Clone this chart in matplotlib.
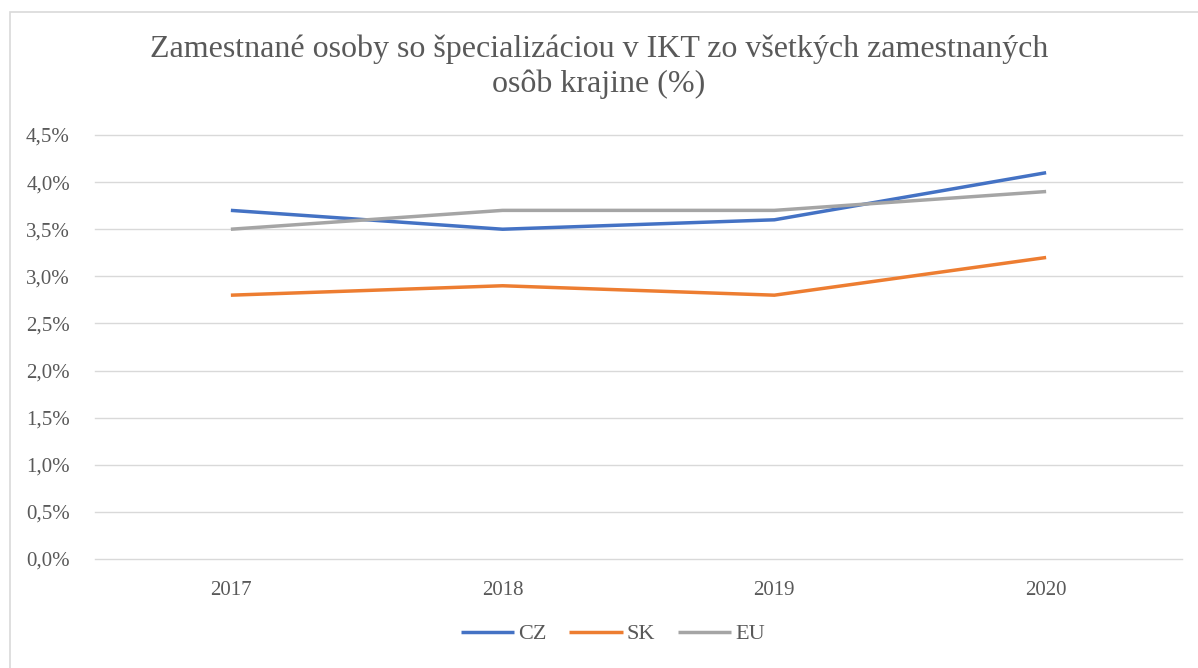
import matplotlib
matplotlib.use("Agg")
import matplotlib.pyplot as plt
from matplotlib.patches import Rectangle
from matplotlib.ticker import FuncFormatter

years = ["2017", "2018", "2019", "2020"]
cz = [3.7, 3.5, 3.6, 4.1]
sk = [2.8, 2.9, 2.8, 3.2]
eu = [3.5, 3.7, 3.7, 3.9]
series_names = ["CZ", "SK", "EU"]
colors = ["#4472C4", "#ED7D31", "#A5A5A5"]

plt.rcParams['font.family'] = ['Liberation Serif', 'DejaVu Serif']

W, H = 1198, 668
fig = plt.figure(figsize=(W / 100, H / 100), dpi=100)
fig.patches.append(Rectangle((10 / W, -0.01), 1.02, (H - 12) / H + 0.01, transform=fig.transFigure,
                             fill=False, edgecolor="#D9D9D9", linewidth=1.2))

ax = fig.add_axes([95 / W, (H - 559) / H, (1182 - 95) / W, (559 - 135) / H])
x = list(range(len(years)))
for vals, name, c in zip([cz, sk, eu], series_names, colors):
    ax.plot(x, vals, color=c, linewidth=2.5, label=name, solid_capstyle="butt")

ax.set_xlim(-0.5, len(years) - 0.5)
ax.set_ylim(0, 4.5)
ax.set_yticks([i * 0.5 for i in range(10)])
ax.yaxis.set_major_formatter(FuncFormatter(lambda v, p: f"{v:.1f}".replace(".", ",") + "%"))
ax.set_xticks(x)
ax.set_xticklabels(years)
ax.grid(axis="y", color="#D9D9D9", linewidth=1.0)
for gl in ax.get_ygridlines():
    gl.set_clip_on(False)
ax.set_axisbelow(True)
for s in ax.spines.values():
    s.set_visible(False)
ax.tick_params(axis="both", length=0, labelsize=15, colors="#595959")
ax.tick_params(axis="y", pad=18)
ax.tick_params(axis="x", pad=16)

fig.text(0.5, (H - 67) / H, "Zamestnané osoby so špecializáciou v IKT zo všetkých zamestnaných\nosôb krajine (%)",
         ha="center", va="center", fontsize=23, color="#595959", linespacing=1.25)

fig.legend(loc="center", bbox_to_anchor=(613 / W, (H - 634) / H), ncol=3, frameon=False,
           fontsize=16, handlelength=2.4, handletextpad=0.2, columnspacing=1.0,
           labelcolor="#595959")

fig.savefig("out.png", dpi=100)
